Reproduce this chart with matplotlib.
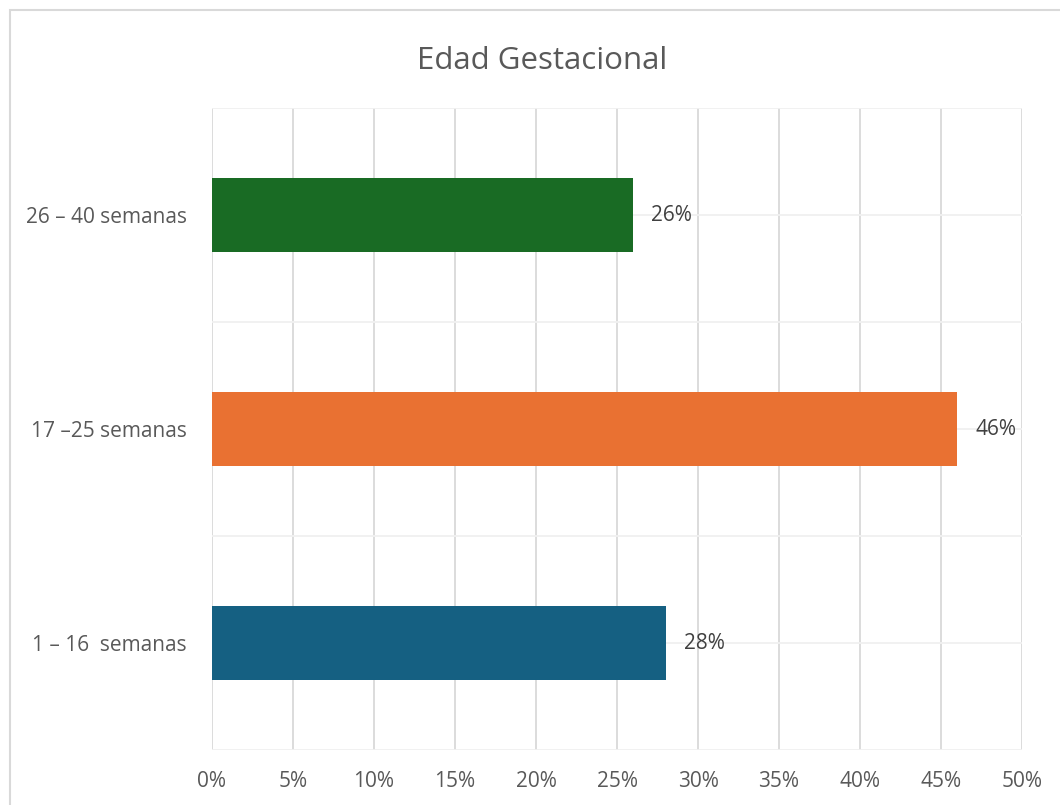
import matplotlib.pyplot as plt
from matplotlib.patches import Rectangle
from matplotlib.ticker import FuncFormatter, MultipleLocator

plt.rcParams['font.family'] = ['Open Sans', 'DejaVu Sans']

categorias = ['1 – 16  semanas', '17 –25 semanas', '26 – 40 semanas']
porcentajes = [28, 46, 26]
colores = ['#156082', '#E97132', '#196B24']

fig = plt.figure(figsize=(10.6, 8.05), dpi=100)
ax = fig.add_axes([0.2, 0.0683, 0.7642, 0.7975])

pos = range(len(categorias))
bars = ax.barh(pos, porcentajes, height=0.35, color=colores, zorder=3)

for b, v in zip(bars, porcentajes):
    ax.annotate(f'{v}%', (b.get_width(), b.get_y() + b.get_height() / 2),
                xytext=(13, 0), textcoords='offset points',
                va='center', ha='left', fontsize=15, color='#404040')

ax.set_xlim(0, 50)
ax.set_ylim(-0.5, 2.5)
ax.xaxis.set_major_locator(MultipleLocator(5))
ax.xaxis.set_major_formatter(FuncFormatter(lambda x, _: f'{x:.0f}%'))
ax.set_yticks(list(pos))
ax.set_yticklabels(categorias)
ax.set_yticks([-0.5, 0.5, 1.5, 2.5], minor=True)

ax.tick_params(axis='both', length=0, labelsize=15, colors='#595959')
ax.tick_params(axis='x', pad=15)
ax.tick_params(axis='y', pad=18)
ax.tick_params(axis='y', which='minor', length=0)

ax.grid(axis='x', color='#D9D9D9', linewidth=1.3, zorder=0)
ax.grid(axis='y', which='both', color='#F0F0F0', linewidth=1.3, zorder=0)
for s in ['top', 'right', 'bottom', 'left']:
    ax.spines[s].set_visible(False)
ax.set_axisbelow(True)

fig.text(0.511, 0.924, 'Edad Gestacional', ha='center', va='center',
         fontsize=22.5, color='#595959')

# chart frame, cut off at the right and bottom edges
fig.patches.append(Rectangle((10 / 1060, -0.1), 1.2, 1 - 10 / 805 + 0.1,
                             transform=fig.transFigure, fill=False,
                             edgecolor='#D9D9D9', linewidth=1.5))

fig.savefig('out.png', dpi=100)
